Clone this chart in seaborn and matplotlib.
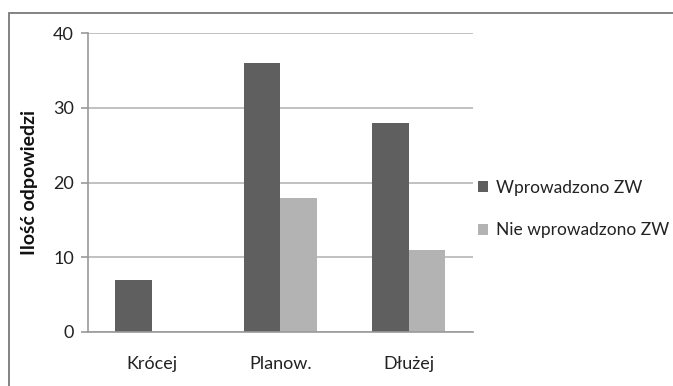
import matplotlib
matplotlib.use("Agg")
import matplotlib.pyplot as plt
from matplotlib.patches import Rectangle
import pandas as pd
import seaborn as sns

categories = ["Krócej", "Planow.", "Dłużej"]
series_names = ["Wprowadzono ZW", "Nie wprowadzono ZW"]
wprowadzono = [7, 36, 28]
nie_wprowadzono = [0, 18, 11]
y_ticks = [0, 10, 20, 30, 40]
y_label = "Ilość odpowiedzi"

df = pd.DataFrame({
    "kategoria": categories * 2,
    "seria": [series_names[0]] * 3 + [series_names[1]] * 3,
    "wartosc": wprowadzono + nie_wprowadzono,
})

sns.set_theme(style="white")
plt.rcParams["font.family"] = ["Lato", "DejaVu Sans"]

W, H = 673, 386
fig = plt.figure(figsize=(W / 100, H / 100), dpi=100)
fig.patch.set_facecolor("white")

# outer chart-area frame
fig.add_artist(Rectangle((8.7 / W, -0.05), 1.2, 1 - 13.3 / H + 0.05,
                         transform=fig.transFigure, fill=False,
                         edgecolor="#7a7a7a", linewidth=1.3))

ax_left, ax_right, ax_top, ax_bottom = 87.7, 472.7, 33.3, 332.0
ax = fig.add_axes([ax_left / W, 1 - ax_bottom / H,
                   (ax_right - ax_left) / W, (ax_bottom - ax_top) / H])

palette = {series_names[0]: "#5f5f5f", series_names[1]: "#b3b3b3"}
sns.barplot(data=df, x="kategoria", y="wartosc", hue="seria", order=categories,
            hue_order=series_names, palette=palette, width=0.567, saturation=1,
            ax=ax, legend=True, edgecolor="none", linewidth=0)

ax.set_ylim(0, 40)
ax.set_xlim(-0.5, 2.5)
ax.set_yticks(y_ticks)
ax.yaxis.grid(True, color="#bcbcbc", linewidth=1.3)
ax.set_axisbelow(True)
for s in ["top", "right"]:
    ax.spines[s].set_visible(False)
for s in ["left", "bottom"]:
    ax.spines[s].set_color("#999999")
    ax.spines[s].set_linewidth(1.2)

ax.set_xticks([0, 1, 2])
ax.set_xticklabels(categories)
ax.set_xticks([-0.5, 0.5, 1.5, 2.5], minor=True)
ax.tick_params(axis="x", which="major", length=0, pad=17, labelsize=13, colors="#222222")
ax.tick_params(axis="x", which="minor", length=7, width=1.2, color="#999999", direction="out")
ax.tick_params(axis="y", length=5, width=1.2, color="#999999", direction="out",
               labelsize=13, pad=5, colors="#222222", left=True)
ax.set_xlabel("")
ax.set_ylabel(y_label, fontsize=14, fontweight="bold", color="#111111", labelpad=11)

# legend centred at about pixel row 209, starting just right of the plot area
leg_y = (ax_bottom - 209) / (ax_bottom - ax_top)
leg_x = 1 + 5 / (ax_right - ax_left)
leg = ax.legend(loc="center left", bbox_to_anchor=(leg_x, leg_y), frameon=False,
                fontsize=12.5, handlelength=0.62, handleheight=0.62, handletextpad=0.45,
                labelspacing=1.55, borderaxespad=0, borderpad=0)
for t in leg.get_texts():
    t.set_color("#222222")

fig.savefig("out.png", dpi=100, facecolor="white")
